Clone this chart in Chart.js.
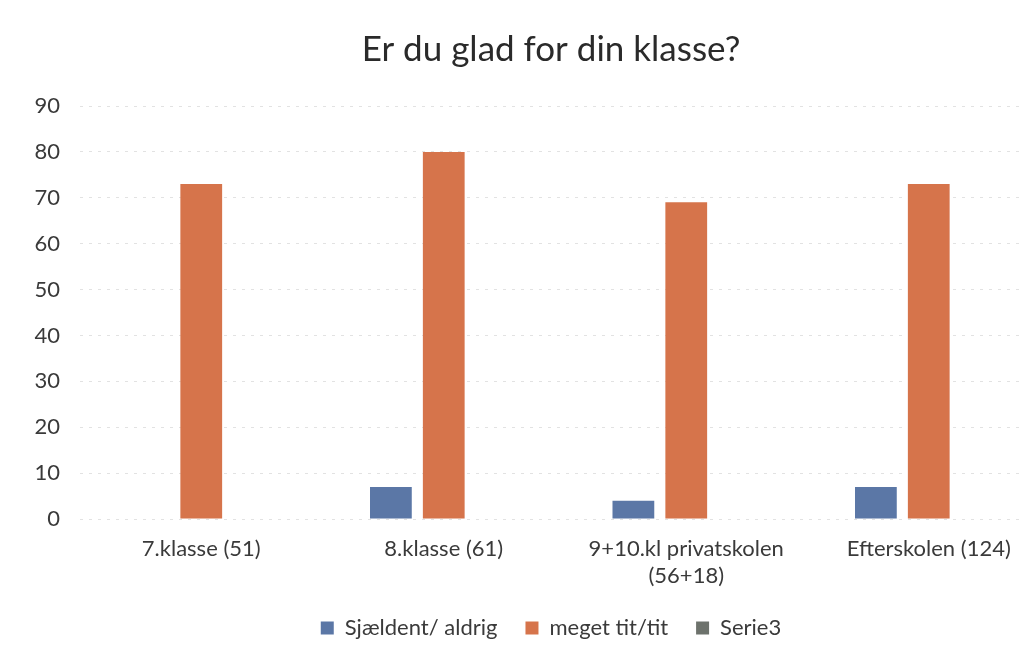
<!DOCTYPE html>
<html>
<head>
<meta charset="utf-8">
<script src="https://cdn.jsdelivr.net/npm/chart.js@4.4.1/dist/chart.umd.min.js"></script>
<style>
  body { margin: 0; background: #ffffff; }
  #wrap { width: 1023px; height: 651px; overflow: hidden; position: relative; }
</style>
</head>
<body>
<div id="wrap">
  <canvas id="klasseChart" width="1102" height="651"></canvas>
</div>
<script>
// Data
const klasser = ['7.klasse (51)', '8.klasse (61)', ['9+10.kl privatskolen', '(56+18)'], 'Efterskolen (124)'];
const sjaeldent = [0, 7, 4, 7];
const megetTit = [73, 80, 69, 73];
const serie3 = [null, null, null, null];
const yTicks = [0, 10, 20, 30, 40, 50, 60, 70, 80, 90];

const tekstFarve = '#3a3a3a';
const font = 'Lato, "Open Sans", sans-serif';

const ctx = document.getElementById('klasseChart').getContext('2d');

window.klasseChart = new Chart(ctx, {
    type: 'bar',
    data: {
        labels: klasser,
        datasets: [
            { label: 'Sjældent/ aldrig', data: sjaeldent, backgroundColor: '#5b77a6' },
            { label: 'meget tit/tit', data: megetTit, backgroundColor: '#d6744b' },
            { label: 'Serie3', data: serie3, backgroundColor: '#6d726c' }
        ]
    },
    options: {
        responsive: false,
        animation: false,
        categoryPercentage: 0.654,
        barPercentage: 0.79,
        layout: { padding: { left: 0, right: 0, top: 0, bottom: 2 } },
        scales: {
            x: {
                afterFit: function (scale) { scale.height = 70; },
                grid: { display: false, drawTicks: false },
                border: { display: false },
                ticks: {
                    color: tekstFarve,
                    font: { family: font, size: 22, lineHeight: 1.23 },
                    padding: 16,
                    maxRotation: 0,
                    autoSkip: false
                }
            },
            y: {
                min: 0,
                max: 90,
                afterFit: function (scale) { scale.width = 80; },
                afterBuildTicks: function (scale) {
                    scale.ticks = yTicks.map(v => ({ value: v }));
                },
                grid: { color: '#e2e2e2', drawTicks: false },
                border: { display: false, dash: [3, 6] },
                ticks: {
                    color: tekstFarve,
                    font: { family: font, size: 22 },
                    padding: 20
                }
            },
            // tom akse til højre, så titel og legend centreres som i originalen
            hoejre: {
                type: 'linear',
                position: 'right',
                afterFit: function (scale) { scale.width = 52; },
                grid: { display: false, drawTicks: false },
                border: { display: false },
                ticks: { display: false }
            }
        },
        plugins: {
            title: {
                display: true,
                text: 'Er du glad for din klasse?',
                color: '#2a2a2a',
                font: { family: font, size: 35, weight: 'normal' },
                padding: { top: 29, bottom: 35 }
            },
            legend: {
                position: 'bottom',
                labels: {
                    color: tekstFarve,
                    font: { family: font, size: 22 },
                    boxWidth: 13,
                    boxHeight: 13,
                    padding: 28
                }
            },
            tooltip: { enabled: false }
        }
    }
});
</script>
</body>
</html>
